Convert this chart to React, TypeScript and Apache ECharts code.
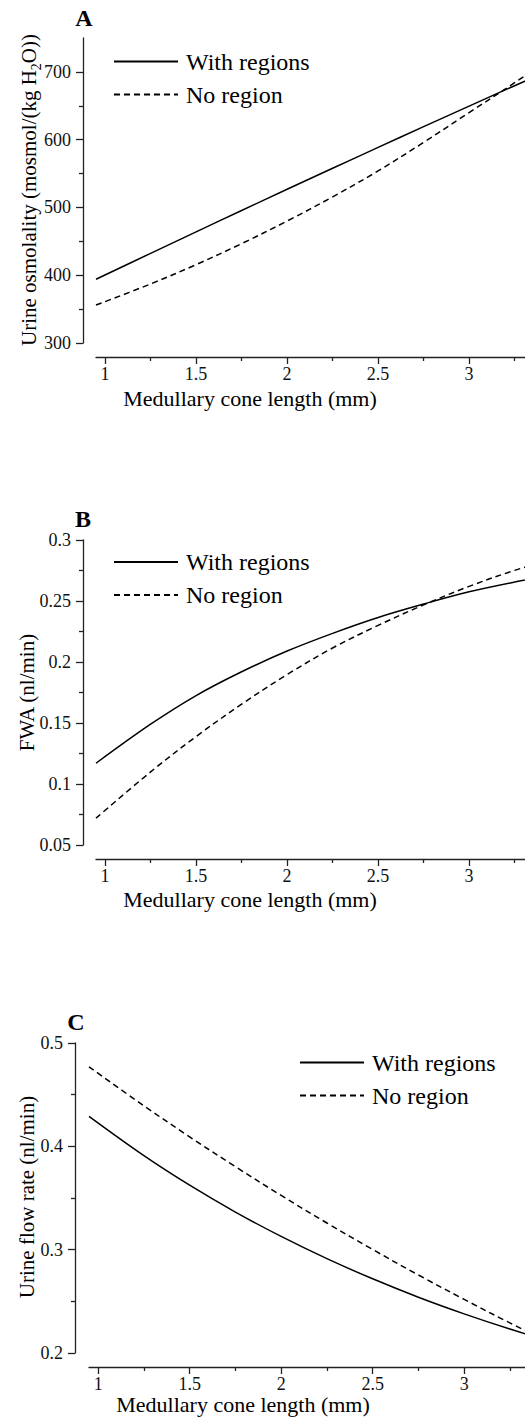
import React, { useEffect, useRef } from "react";
import * as echarts from "echarts";

// Medullary cone length (mm)
const coneLength = [0.95, 1.25, 1.5, 1.75, 2.0, 2.25, 2.5, 2.75, 3.0, 3.25, 3.5];
// Panel A: urine osmolality (mosmol/(kg H2O))
const osmWithRegions = [394, 432.3, 464, 495.5, 526.8, 557.8, 588.6, 619.2, 649.5, 679.6, 709.3];
const osmNoRegion = [356, 387.1, 415.6, 446.6, 479.9, 515.6, 553.9, 596, 640, 684, 730];
// Panel B: FWA (nl/min)
const fwaWithRegions = [0.117, 0.149, 0.1725, 0.192, 0.209, 0.2235, 0.2365, 0.2475, 0.2575, 0.2655, 0.2725];
const fwaNoRegion = [0.072, 0.1099, 0.1389, 0.1654, 0.1897, 0.2115, 0.23, 0.2468, 0.262, 0.2751, 0.286];
// Panel C: urine flow rate (nl/min)
const flowWithRegions = [0.429, 0.391, 0.3624, 0.3364, 0.3128, 0.2913, 0.2718, 0.254, 0.2379, 0.2232, 0.2098];
const flowNoRegion = [0.477, 0.4392, 0.4092, 0.3803, 0.3525, 0.3258, 0.3002, 0.2755, 0.2519, 0.2291, 0.2073];

const xMajorTicks = [1, 1.5, 2, 2.5, 3];
const xMinorTicks = [1.25, 1.75, 2.25, 2.75, 3.25];
const aMajorTicks = [300, 400, 500, 600, 700];
const aMinorTicks = [350, 450, 550, 650];
const bMajorTicks = [0.05, 0.1, 0.15, 0.2, 0.25, 0.3];
const bMinorTicks = [0.075, 0.125, 0.175, 0.225, 0.275];
const cMajorTicks = [0.2, 0.3, 0.4, 0.5];
const cMinorTicks = [0.25, 0.35, 0.45];

const seriesNames = ["With regions", "No region"];
const xTitle = "Medullary cone length (mm)";

const SERIF = "Liberation Serif, Times New Roman, serif";
const AX = "#222";

export default function App() {
  const ref = useRef<HTMLDivElement>(null);
  useEffect(() => {
    document.body.style.margin = "0";
    if (!ref.current) return;
    const chart = echarts.init(ref.current, null, { renderer: "svg" });

    const panels = [
      { top: 38, height: 305, left: 96, yOff: 13, xMax: 3.307, yMin: 300, yMax: 750, major: aMajorTicks, minor: aMinorTicks, w: osmWithRegions, n: osmNoRegion },
      { top: 540, height: 305, left: 96, yOff: 13, xMax: 3.307, yMin: 0.05, yMax: 0.3, major: bMajorTicks, minor: bMinorTicks, w: fwaWithRegions, n: fwaNoRegion },
      { top: 1043, height: 310, left: 89, yOff: 14, xMax: 3.3325, yMin: 0.2, yMax: 0.5, major: cMajorTicks, minor: cMinorTicks, w: flowWithRegions, n: flowNoRegion },
    ];

    const grid: any[] = [];
    const xAxis: any[] = [];
    const yAxis: any[] = [];
    const series: any[] = [];
    panels.forEach((p, i) => {
      grid.push({ left: p.left, right: 0, top: p.top, height: p.height });
      const xBase = {
        type: "value", gridIndex: i, min: 0.95, max: p.xMax, position: "bottom", offset: 14,
        splitLine: { show: false },
      };
      xAxis.push({
        ...xBase,
        axisLine: { show: true, lineStyle: { color: AX, width: 1.3 } },
        axisTick: { show: true, length: 7, customValues: xMajorTicks, lineStyle: { color: AX, width: 1.3 } },
        axisLabel: { show: true, customValues: xMajorTicks, margin: 10, lineHeight: 14, color: "#111", fontFamily: SERIF, fontSize: 18 },
      });
      xAxis.push({
        ...xBase,
        axisLine: { show: false },
        axisTick: { show: true, length: 4, customValues: xMinorTicks, lineStyle: { color: AX, width: 1.3 } },
        axisLabel: { show: false },
      });
      const yBase = {
        type: "value", gridIndex: i, min: p.yMin, max: p.yMax, position: "left", offset: p.yOff,
        splitLine: { show: false },
      };
      yAxis.push({
        ...yBase,
        axisLine: { show: true, lineStyle: { color: AX, width: 1.3 } },
        axisTick: { show: true, length: 7, customValues: p.major, lineStyle: { color: AX, width: 1.3 } },
        axisLabel: { show: true, customValues: p.major, margin: 12, color: "#111", fontFamily: SERIF, fontSize: 18 },
      });
      yAxis.push({
        ...yBase,
        axisLine: { show: false },
        axisTick: { show: true, length: 4, customValues: p.minor, lineStyle: { color: AX, width: 1.3 } },
        axisLabel: { show: false },
      });
      series.push({
        name: seriesNames[0], type: "line", xAxisIndex: 2 * i, yAxisIndex: 2 * i,
        data: coneLength.map((x, j) => [x, p.w[j]]), smooth: 0.35, symbol: "none", clip: true,
        lineStyle: { color: "#000", width: 1.5, type: "solid" }, itemStyle: { color: "#000" },
      });
      series.push({
        name: seriesNames[1], type: "line", xAxisIndex: 2 * i, yAxisIndex: 2 * i,
        data: coneLength.map((x, j) => [x, p.n[j]]), smooth: 0.35, symbol: "none", clip: true,
        lineStyle: { color: "#000", width: 1.5, type: [6, 4] }, itemStyle: { color: "#000" },
      });
    });

    const legendPos = [
      { left: 113, top: 49.5 },
      { left: 113, top: 550 },
      { left: 299, top: 1050.5 },
    ];
    const legend = legendPos.map((lp) => ({
      ...lp, orient: "vertical", padding: 0, itemGap: 9, itemWidth: 64, itemHeight: 2,
      selectedMode: false, data: seriesNames,
      itemStyle: { opacity: 0, borderWidth: 0 },
      textStyle: { fontFamily: SERIF, fontSize: 24, lineHeight: 23, color: "#000", padding: [0, 0, 0, 3] },
    }));

    const letter = (t: string, x: number, y: number) => ({
      type: "text", x, y,
      style: { text: t, fontFamily: SERIF, fontSize: 24, fontWeight: "bold", fill: "#000", align: "center", verticalAlign: "middle" },
    });
    const xName = (x: number, y: number) => ({
      type: "text", x, y,
      style: { text: xTitle, fontFamily: SERIF, fontSize: 22, lineHeight: 16, fill: "#000", align: "center", verticalAlign: "middle" },
    });
    const yName = (text: string, x: number, y: number, rich?: any) => ({
      type: "text", x, y, rotation: Math.PI / 2,
      style: { text, rich, fontFamily: SERIF, fontSize: 21, fill: "#000", align: "center", verticalAlign: "middle" },
    });

    const subRich = {
      a: { fontFamily: SERIF, fontSize: 21, lineHeight: 24, verticalAlign: "bottom", fill: "#000" },
      s: { fontFamily: SERIF, fontSize: 14, lineHeight: 24, verticalAlign: "bottom", padding: [0, 0, -4, 0], fill: "#000" },
    };

    chart.setOption({
      animation: false,
      backgroundColor: "#fff",
      grid,
      xAxis,
      yAxis,
      legend,
      series,
      graphic: [
        letter("A", 84, 18),
        letter("B", 83, 519),
        letter("C", 76, 1022),
        xName(250, 398),
        xName(250, 899),
        xName(243, 1404),
        yName("{a|Urine osmolality (mosmol/(kg H}{s|2}{a|O))}", 27, 190, subRich),
        yName("FWA (nl/min)", 27, 692.5),
        yName("Urine flow rate (nl/min)", 27, 1197),
      ],
    });
    return () => chart.dispose();
  }, []);
  return <div ref={ref} style={{ width: 525, height: 1418 }} />;
}
